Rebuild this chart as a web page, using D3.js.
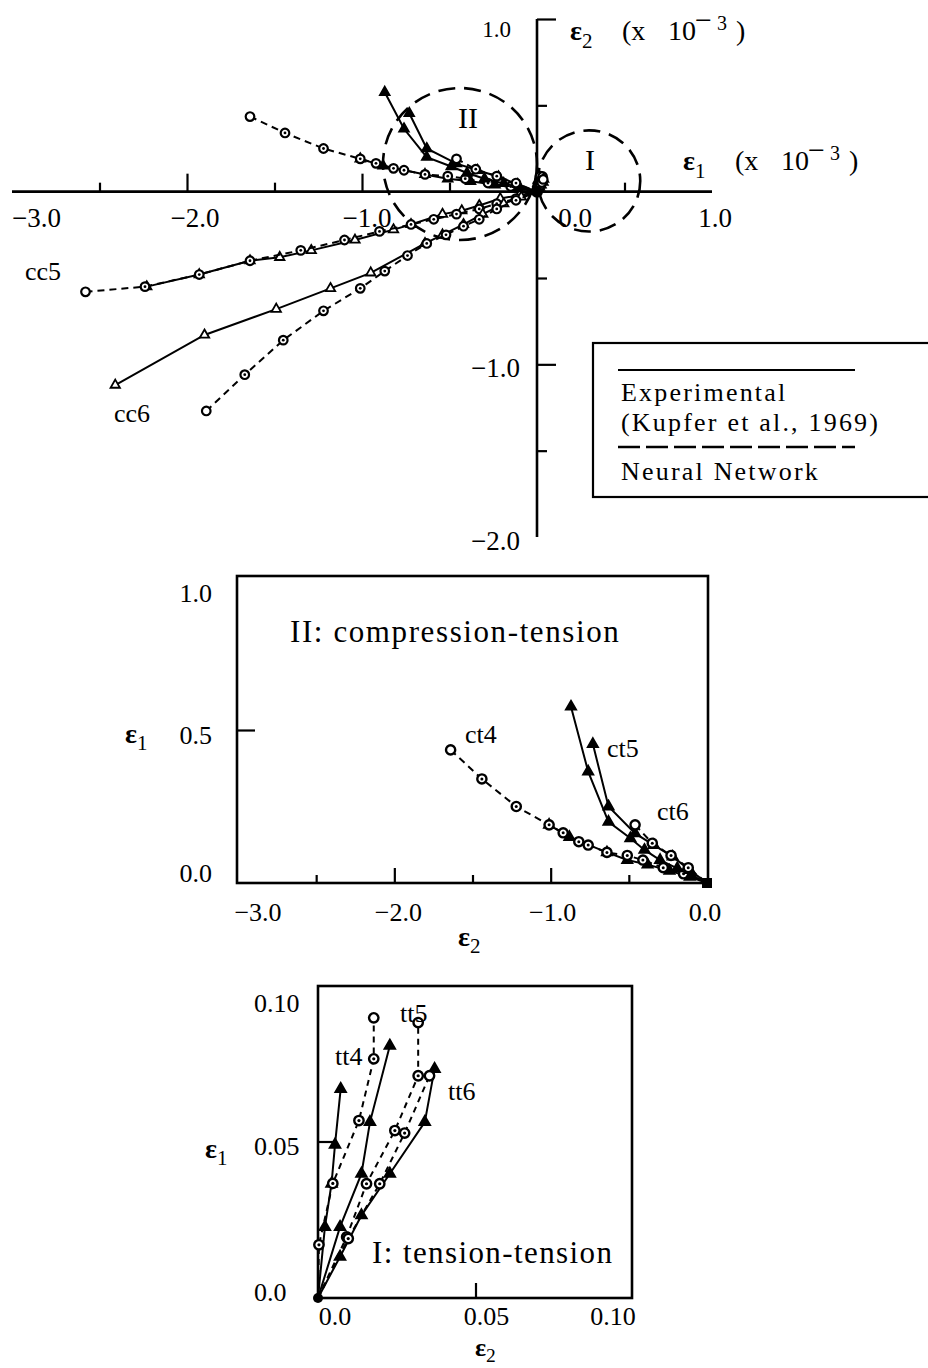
<!DOCTYPE html>
<html>
<head>
<meta charset="utf-8">
<script src="https://cdn.jsdelivr.net/npm/d3@7/dist/d3.min.js"></script>
<style>
  body { margin: 0; background: #fff; }
  svg text { font-family: "Liberation Serif", "Times New Roman", serif; fill: #000; }
</style>
</head>
<body>
<svg id="fig" width="928" height="1368"></svg>
<script>
// Biaxial strain paths of concrete (strains in units of 10^-3).
// Each point: [horizontal strain, vertical strain].

// Region III: compression-compression
const cc5Exp = [[-2.23,-0.55],[-1.93,-0.48],[-1.64,-0.40],[-1.47,-0.38],[-1.29,-0.34],[-1.04,-0.28],[-0.82,-0.22],[-0.72,-0.19],[-0.54,-0.13],[-0.43,-0.11],[-0.33,-0.08],[-0.21,-0.04],[-0.10,-0.02],[0,0]];
const cc5NN  = [[-2.58,-0.58],[-2.24,-0.55],[-1.93,-0.48],[-1.64,-0.40],[-1.35,-0.34],[-1.10,-0.28],[-0.90,-0.23],[-0.72,-0.19],[-0.59,-0.16],[-0.46,-0.13],[-0.33,-0.10],[-0.23,-0.07],[-0.12,-0.04],[0,0]];
const cc6Exp = [[-2.41,-1.12],[-1.90,-0.83],[-1.49,-0.68],[-1.18,-0.56],[-0.95,-0.47],[-0.64,-0.30],[-0.54,-0.25],[-0.42,-0.19],[-0.31,-0.13],[-0.19,-0.07],[-0.09,-0.03],[0,0]];
const cc6NN  = [[-1.89,-1.27],[-1.67,-1.06],[-1.45,-0.86],[-1.22,-0.69],[-1.01,-0.56],[-0.87,-0.46],[-0.74,-0.37],[-0.63,-0.30],[-0.52,-0.25],[-0.42,-0.20],[-0.33,-0.16],[-0.23,-0.10],[-0.12,-0.05],[0,0]];

// Region II: compression-tension
const ct4Exp = [[-1.01,0.19],[-0.88,0.15],[-0.64,0.10],[-0.51,0.075],[-0.38,0.06],[-0.24,0.04],[-0.11,0.02],[0,0]];
const ct4NN  = [[-1.64,0.435],[-1.44,0.34],[-1.22,0.25],[-1.01,0.19],[-0.92,0.164],[-0.82,0.135],[-0.76,0.124],[-0.64,0.10],[-0.51,0.09],[-0.41,0.075],[-0.28,0.05],[-0.15,0.03],[0,0]];
const ct5Exp = [[-0.87,0.576],[-0.76,0.364],[-0.63,0.20],[-0.49,0.146],[-0.40,0.108],[-0.30,0.075],[-0.19,0.048],[-0.10,0.026],[0,0]];
const ct6Exp = [[-0.73,0.454],[-0.63,0.25],[-0.46,0.162],[-0.34,0.124],[-0.22,0.086],[-0.11,0.042],[0,0]];
const ct6NN  = [[-0.46,0.19],[-0.35,0.13],[-0.23,0.09],[-0.12,0.05],[0,0]];

// Region I: tension-tension
const tt4Exp = [[0,0],[0.0022,0.0227],[0.0043,0.0365],[0.0054,0.049],[0.0072,0.0668]];
const tt4NN  = [[0,0],[0.0003,0.017],[0.0047,0.0366],[0.013,0.0567],[0.0177,0.0764],[0.0177,0.0895]];
const tt5Exp = [[0,0],[0.007,0.0227],[0.0138,0.0397],[0.0165,0.0562],[0.0228,0.0806]];
const tt5NN  = [[0,0],[0.0091,0.0195],[0.0154,0.0365],[0.0244,0.0535],[0.0318,0.071],[0.0318,0.088]];
const tt6Exp = [[0,0],[0.007,0.0132],[0.0138,0.0264],[0.0228,0.0397],[0.0339,0.0562],[0.037,0.0732]];
const tt6NN  = [[0,0],[0.0096,0.019],[0.0196,0.0365],[0.0275,0.0527],[0.0354,0.071]];

// Region outlines on the overview plot: [centre x, centre y, radius]
const regionII = [-0.44, 0.16, 0.44];
const regionI  = [0.297, 0.062, 0.293];

// Ticks and labels
const topXMajor = [-2, -1];
const topXMinor = [-2.5, -1.5, -0.5, 0.5];
const topXLabelVals = [-3, -2, -1, 0, 1];
const topXLabels = ["−3.0", "−2.0", "−1.0", "0.0", "1.0"];
const topYMajor = [1, -1];
const topYMinor = [0.5, -0.5, -1.5];
const topYLabelVals = [1, -1, -2];
const topYLabels = ["1.0", "−1.0", "−2.0"];

const midXMajor = [-2, -1];
const midXMinor = [-2.5, -1.5, -0.5];
const midXLabelVals = [-3, -2, -1, 0];
const midXLabels = ["−3.0", "−2.0", "−1.0", "0.0"];
const midYTicks = [0.5];
const midYLabelVals = [1, 0.5, 0];
const midYLabels = ["1.0", "0.5", "0.0"];

const botXTicks = [0.05];
const botXLabelVals = [0, 0.05, 0.10];
const botXLabels = ["0.0", "0.05", "0.10"];
const botYTicks = [0.05];
const botYLabelVals = [0.10, 0.05, 0];
const botYLabels = ["0.10", "0.05", "0.0"];

const svg = d3.select("#fig");

// ---------- helpers ----------
function plotSeries(g, x, y, pts, kind, m) {
  const line = d3.line().x(d => x(d[0])).y(d => y(d[1]));
  g.append("path").attr("d", line(pts))
    .attr("fill", "none").attr("stroke", "#000")
    .attr("stroke-width", m.lw)
    .attr("stroke-dasharray", kind === "nn" ? m.dash : null);
  const marks = pts.filter(d => !(d[0] === 0 && d[1] === 0));
  if (kind === "exp") {
    g.selectAll(null).data(marks).join("path")
      .attr("transform", d => `translate(${x(d[0])},${y(d[1])})`)
      .attr("d", d3.symbol(d3.symbolTriangle, m.tri)())
      .attr("fill", m.openTri ? "#fff" : "#000")
      .attr("stroke", "#000").attr("stroke-width", 1.8);
  } else {
    // the farthest point of a predicted path is an open circle
    const far = d3.greatest(marks, d => Math.hypot(d[0], d[1]));
    const mk = g.selectAll(null).data(marks).join("g")
      .attr("transform", d => `translate(${x(d[0])},${y(d[1])})`);
    mk.append("circle").attr("r", m.r).attr("fill", "#fff")
      .attr("stroke", "#000").attr("stroke-width", m.cw);
    mk.filter(d => d !== far).append("circle").attr("r", m.dot).attr("fill", "#000");
  }
}

function eps(g, xPos, yPos, sub, size) {
  const t = g.append("text").attr("x", xPos).attr("y", yPos).attr("font-size", size);
  t.append("tspan").attr("font-weight", "bold").text("ε");
  t.append("tspan").attr("font-size", size * 0.75).attr("dy", size * 0.24).text(sub);
  return t;
}

// strain axis title with the 10^-3 multiplier
function scaledTitle(g, x0, y0, sub) {
  const t = g.append("text").attr("y", y0).attr("font-size", 28);
  t.append("tspan").attr("x", x0).attr("font-weight", "bold").text("ε");
  t.append("tspan").attr("font-size", 21).attr("dy", 8).text(sub);
  t.append("tspan").attr("x", x0 + 52).attr("dy", -8).text("(x");
  t.append("tspan").attr("x", x0 + 98).text("10");
  t.append("tspan").attr("x", x0 + 125).attr("font-size", 30).attr("dy", -10).text("−");
  t.append("tspan").attr("x", x0 + 147).attr("font-size", 20).text("3");
  t.append("tspan").attr("x", x0 + 166).attr("dy", 10).text(")");
}

function ticks(g, axisFn, scale, vals, len) {
  const a = axisFn(scale).tickValues(vals).tickSize(len).tickSizeOuter(0).tickFormat("");
  const s = g.append("g").call(a);
  s.select(".domain").remove();
  s.selectAll(".tick line").attr("stroke", "#000").attr("stroke-width", 2.2);
  return s;
}

// ---------- overview plot ----------
const xT = d3.scaleLinear().domain([-3, 1]).range([12, 712]);
const yT = d3.scaleLinear().domain([-2, 1]).range([537, 19]);
const gT = svg.append("g");

gT.append("line").attr("x1", xT(-3)).attr("x2", xT(1)).attr("y1", yT(0)).attr("y2", yT(0))
  .attr("stroke", "#000").attr("stroke-width", 2.6);
gT.append("line").attr("x1", xT(0)).attr("x2", xT(0)).attr("y1", yT(1)).attr("y2", yT(-2))
  .attr("stroke", "#000").attr("stroke-width", 2.6);

ticks(gT.append("g").attr("transform", `translate(0,${yT(0)})`), d3.axisTop, xT, topXMajor, 18);
ticks(gT.append("g").attr("transform", `translate(0,${yT(0)})`), d3.axisTop, xT, topXMinor, 9);
ticks(gT.append("g").attr("transform", `translate(${xT(0)},0)`), d3.axisRight, yT, topYMajor, 19);
ticks(gT.append("g").attr("transform", `translate(${xT(0)},0)`), d3.axisRight, yT, topYMinor, 10);

const topXdx = { "-3": 0, "-2": 8, "-1": 5, "0": 38, "1": 3 };
gT.selectAll(null).data(topXLabelVals).join("text")
  .attr("x", d => xT(d) + topXdx[d])
  .attr("y", 227)
  .attr("font-size", 27)
  .attr("text-anchor", d => d === -3 ? "start" : "middle")
  .text((d, i) => topXLabels[i]);
gT.selectAll(null).data(topYLabelVals).join("text")
  .attr("x", d => d === 1 ? 511 : 520)
  .attr("y", d => yT(d) + (d === 1 ? 18 : 13))
  .attr("font-size", d => d === 1 ? 23 : 27)
  .attr("text-anchor", "end")
  .text((d, i) => topYLabels[i]);

scaledTitle(gT, 570, 40, "2");
scaledTitle(gT, 683, 170, "1");

// region outlines
[regionII, regionI].forEach(c => {
  gT.append("ellipse")
    .attr("cx", xT(c[0])).attr("cy", yT(c[1]))
    .attr("rx", xT(c[2]) - xT(0)).attr("ry", yT(0) - yT(c[2]))
    .attr("fill", "none").attr("stroke", "#000").attr("stroke-width", 2.6)
    .attr("stroke-dasharray", "17 9");
});
gT.append("text").attr("x", xT(regionII[0]) + 8).attr("y", 128).attr("font-size", 30)
  .attr("text-anchor", "middle").text("II");
gT.append("text").attr("x", xT(regionI[0]) + 1).attr("y", 170).attr("font-size", 30)
  .attr("text-anchor", "middle").text("I");

const mTopCC = { lw: 2, dash: "7 5", tri: 38, openTri: true, r: 4.3, cw: 2.2, dot: 1.4 };
const mTop = { lw: 2, dash: "7 5", tri: 40, openTri: false, r: 4.3, cw: 2.2, dot: 1.4 };
[[cc5Exp, "exp"], [cc5NN, "nn"], [cc6Exp, "exp"], [cc6NN, "nn"]]
  .forEach(([p, k]) => plotSeries(gT.append("g"), xT, yT, p, k, mTopCC));
[[ct4Exp, "exp"], [ct4NN, "nn"], [ct5Exp, "exp"], [ct6Exp, "exp"], [ct6NN, "nn"],
 [tt4Exp, "exp"], [tt4NN, "nn"], [tt5Exp, "exp"], [tt5NN, "nn"], [tt6Exp, "exp"], [tt6NN, "nn"]]
  .forEach(([p, k]) => plotSeries(gT.append("g"), xT, yT, p, k, mTop));
gT.append("circle").attr("cx", xT(0)).attr("cy", yT(0)).attr("r", 6).attr("fill", "#000");

gT.append("text").attr("x", 25).attr("y", 280).attr("font-size", 26).text("cc5");
gT.append("text").attr("x", 114).attr("y", 422).attr("font-size", 26).text("cc6");

// legend
const gL = svg.append("g");
gL.append("rect").attr("x", 593).attr("y", 343).attr("width", 345).attr("height", 154)
  .attr("fill", "#fff").attr("stroke", "#000").attr("stroke-width", 2.2);
gL.append("line").attr("x1", 618).attr("x2", 855).attr("y1", 370).attr("y2", 370)
  .attr("stroke", "#000").attr("stroke-width", 2);
gL.append("line").attr("x1", 618).attr("x2", 855).attr("y1", 447).attr("y2", 447)
  .attr("stroke", "#000").attr("stroke-width", 2.4).attr("stroke-dasharray", "22 6");
const legTxt = [["Experimental", 401], ["(Kupfer et al., 1969)", 431], ["Neural Network", 480]];
gL.selectAll(null).data(legTxt).join("text")
  .attr("x", 621).attr("y", d => d[1]).attr("font-size", 26).attr("letter-spacing", 2.2)
  .text(d => d[0]);

// ---------- region II detail ----------
const xM = d3.scaleLinear().domain([-3, 0]).range([238, 707]);
const yM = d3.scaleLinear().domain([0, 1]).range([883, 577]);
const gM = svg.append("g");
gM.append("rect").attr("x", 237).attr("y", 576).attr("width", 471).attr("height", 307)
  .attr("fill", "none").attr("stroke", "#000").attr("stroke-width", 2.6);
ticks(gM.append("g").attr("transform", `translate(0,${yM(0)})`), d3.axisTop, xM, midXMajor, 15);
ticks(gM.append("g").attr("transform", `translate(0,${yM(0)})`), d3.axisTop, xM, midXMinor, 8);
ticks(gM.append("g").attr("transform", `translate(${xM(-3)},0)`), d3.axisRight, yM, midYTicks, 17);

const midXdx = { "-3": 20, "-2": 4, "-1": 2, "0": -2 };
gM.selectAll(null).data(midXLabelVals).join("text")
  .attr("x", d => xM(d) + midXdx[d]).attr("y", 921).attr("font-size", 26)
  .attr("text-anchor", "middle").text((d, i) => midXLabels[i]);
gM.selectAll(null).data(midYLabelVals).join("text")
  .attr("x", 212).attr("y", d => yM(d) + (d === 1 ? 25 : d === 0 ? -1 : 14)).attr("font-size", 26)
  .attr("text-anchor", "end").text((d, i) => midYLabels[i]);
eps(gM, 125, 743, "1", 28);
eps(gM, 458, 946, "2", 28);
gM.append("text").attr("x", 290).attr("y", 642).attr("font-size", 31)
  .attr("letter-spacing", 1.6).text("II: compression-tension");

const mMid = { lw: 2, dash: "7 5", tri: 46, openTri: false, r: 4.6, cw: 2.4, dot: 1.5 };
[[ct4Exp, "exp"], [ct4NN, "nn"], [ct5Exp, "exp"], [ct6Exp, "exp"], [ct6NN, "nn"]]
  .forEach(([p, k]) => plotSeries(gM.append("g"), xM, yM, p, k, mMid));
gM.append("rect").attr("x", xM(0) - 5).attr("y", yM(0) - 5).attr("width", 10).attr("height", 10).attr("fill", "#000");
gM.append("text").attr("x", 465).attr("y", 743).attr("font-size", 26).text("ct4");
gM.append("text").attr("x", 607).attr("y", 757).attr("font-size", 26).text("ct5");
gM.append("text").attr("x", 657).attr("y", 820).attr("font-size", 26).text("ct6");

// ---------- region I detail ----------
const xB = d3.scaleLinear().domain([0, 0.10]).range([318, 633]);
const yB = d3.scaleLinear().domain([0, 0.10]).range([1298, 985]);
const gB = svg.append("g");
gB.append("rect").attr("x", 318).attr("y", 986).attr("width", 314).attr("height", 312)
  .attr("fill", "none").attr("stroke", "#000").attr("stroke-width", 2.6);
ticks(gB.append("g").attr("transform", `translate(0,${yB(0)})`), d3.axisTop, xB, botXTicks, 15);
ticks(gB.append("g").attr("transform", `translate(${xB(0)},0)`), d3.axisRight, yB, botYTicks, 19);

const botXdx = { "0": 17, "0.05": 11, "0.1": -20 };
gB.selectAll(null).data(botXLabelVals).join("text")
  .attr("x", d => xB(d) + botXdx[String(d)]).attr("y", 1325).attr("font-size", 26)
  .attr("text-anchor", "middle").text((d, i) => botXLabels[i]);
gB.selectAll(null).data(botYLabelVals).join("text")
  .attr("x", 254).attr("y", d => yB(d) + (d === 0 ? 3 : d === 0.05 ? 13 : 27)).attr("font-size", 26)
  .text((d, i) => botYLabels[i]);
eps(gB, 205, 1158, "1", 28);
eps(gB, 475, 1356, "2", 26);
gB.append("text").attr("x", 372).attr("y", 1263).attr("font-size", 31)
  .attr("letter-spacing", 1.4).text("I: tension-tension");

const mBot = { lw: 2, dash: "6 5", tri: 50, openTri: false, r: 4.7, cw: 2.4, dot: 1.6 };
[[tt4Exp, "exp"], [tt4NN, "nn"], [tt5Exp, "exp"], [tt5NN, "nn"], [tt6Exp, "exp"], [tt6NN, "nn"]]
  .forEach(([p, k]) => plotSeries(gB.append("g"), xB, yB, p, k, mBot));
gB.append("circle").attr("cx", xB(0)).attr("cy", yB(0)).attr("r", 5).attr("fill", "#000");
gB.append("text").attr("x", 335).attr("y", 1065).attr("font-size", 26).text("tt4");
gB.append("text").attr("x", 400).attr("y", 1022).attr("font-size", 26).text("tt5");
gB.append("text").attr("x", 448).attr("y", 1100).attr("font-size", 26).text("tt6");
</script>
</body>
</html>
